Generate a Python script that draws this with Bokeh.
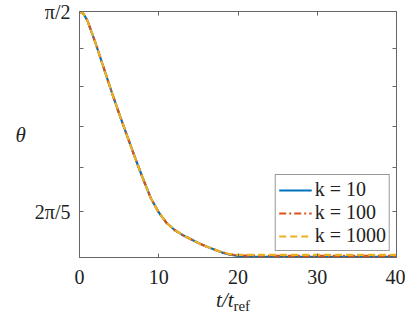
import math
from bokeh.plotting import figure
from bokeh.models import (Range1d, FixedTicker, CustomJSTickFormatter, LogAxis,
                          LinearAxis, Legend, LegendItem)
from bokeh.embed import file_html
from bokeh.resources import INLINE

# ---- data ----
t = [0, 0.5, 1, 2, 3, 4, 5, 6, 7, 8, 9, 10, 11, 12, 13, 14, 15, 16, 17, 18,
     19, 20, 22, 25, 30, 35, 40]
theta_k10 = [1.5708, 1.5669, 1.5551, 1.5174, 1.4773, 1.4383, 1.4018, 1.3678,
             1.3347, 1.3038, 1.2755, 1.2554, 1.2406, 1.2310, 1.2241, 1.2187,
             1.2132, 1.2085, 1.2044, 1.2004, 1.1977, 1.1960, 1.1951, 1.1946,
             1.1946, 1.1946, 1.1946]
theta_k100 = [1.5708, 1.5669, 1.5551, 1.5174, 1.4773, 1.4383, 1.4018, 1.3678,
              1.3347, 1.3038, 1.2755, 1.2554, 1.2406, 1.2310, 1.2241, 1.2187,
              1.2132, 1.2085, 1.2045, 1.2006, 1.1980, 1.1966, 1.1962, 1.1961,
              1.1961, 1.1961, 1.1961]
theta_k1000 = [1.5708, 1.5669, 1.5551, 1.5174, 1.4773, 1.4383, 1.4018, 1.3678,
               1.3347, 1.3038, 1.2755, 1.2554, 1.2406, 1.2310, 1.2241, 1.2187,
               1.2132, 1.2085, 1.2046, 1.2008, 1.1982, 1.1972, 1.1974, 1.1974,
               1.1974, 1.1974, 1.1974]
series_labels = ["k = 10", "k = 100", "k = 1000"]

x_ticks = [0, 10, 20, 30, 40]
y_ticks = [math.pi * n / 50 for n in (20, 21, 22, 23, 24, 25)]
y_tick_labels = ["2π/5", "", "", "", "", "π/2"]
y_min = math.pi * 19 / 50
y_max = math.pi / 2

FONT = "Liberation Serif"
AX = "#666666"
NB = "\u00a0"

p = figure(width=405, height=316,
           y_axis_type="log", x_range=Range1d(0, 40), y_range=Range1d(y_min, y_max),
           output_backend="svg", toolbar_location=None,
           min_border_left=79, min_border_right=9, min_border_top=11,
           min_border_bottom=59)
p.grid.visible = False
p.outline_line_color = AX
p.outline_line_width = 1
p.background_fill_color = "white"
p.border_fill_color = "white"

yfmt = CustomJSTickFormatter(args=dict(vals=y_ticks, labs=y_tick_labels), code="""
for (let i = 0; i < vals.length; i++) {
  if (Math.abs(tick - vals[i]) < 1e-6) return labs[i];
}
return "";
""")
blank = CustomJSTickFormatter(code='return "";')

def style_axis(ax):
    ax.axis_line_color = AX
    ax.major_tick_line_color = AX
    ax.minor_tick_line_color = None
    ax.major_tick_in = 4
    ax.major_tick_out = 0
    ax.major_label_text_font = FONT
    ax.major_label_text_font_size = "20px"
    ax.major_label_text_color = "#222222"
    ax.axis_label_text_font = FONT
    ax.axis_label_text_color = "#222222"

xa = p.xaxis[0]
xa.ticker = FixedTicker(ticks=x_ticks)
style_axis(xa)
xa.major_label_standoff = 12
xa.axis_label = "t/t" + NB * 5
xa.axis_label_text_font_style = "italic"
xa.axis_label_text_font_size = "21px"
xa.axis_label_standoff = 1

# subscript of the x label
xs = LinearAxis(ticker=FixedTicker(ticks=[]), formatter=blank)
style_axis(xs)
xs.axis_line_color = None
xs.major_label_standoff = 0
xs.major_label_text_font_size = "1px"
xs.axis_label = NB * 2 + "ref"
xs.axis_label_text_font_size = "15px"
xs.axis_label_text_font_style = "normal"
xs.axis_label_standoff = -17
p.add_layout(xs, "below")

ya = p.yaxis[0]
ya.ticker = FixedTicker(ticks=y_ticks)
ya.formatter = yfmt
style_axis(ya)
ya.major_label_standoff = 9
ya.axis_label = "θ"
ya.axis_label_orientation = "horizontal"
ya.axis_label_text_font_style = "italic"
ya.axis_label_text_font_size = "21px"
ya.axis_label_standoff = 6

ra = LogAxis(ticker=FixedTicker(ticks=y_ticks), formatter=blank)
style_axis(ra)
ra.major_label_standoff = 0
p.add_layout(ra, "right")

ta = LinearAxis(ticker=FixedTicker(ticks=x_ticks), formatter=blank)
style_axis(ta)
ta.major_label_standoff = 0
p.add_layout(ta, "above")

r1 = p.line(t, theta_k10, line_color="#0072BD", line_width=2.2)
r2 = p.line(t, theta_k100, line_color="#D95319", line_width=2.2, line_dash="7 3 2 3")
r3 = p.line(t, theta_k1000, line_color="#EDB120", line_width=2.2, line_dash="7 4")

legend = Legend(items=[LegendItem(label=series_labels[0], renderers=[r1]),
                       LegendItem(label=series_labels[1], renderers=[r2]),
                       LegendItem(label=series_labels[2], renderers=[r3])],
                location="bottom_right")
legend.label_text_font = FONT
legend.label_text_font_size = "20px"
legend.label_text_color = "#222222"
legend.glyph_width = 33
legend.glyph_height = 20
legend.label_height = 20
legend.label_standoff = 3
legend.spacing = 0
legend.padding = 3
legend.margin = 6
legend.border_line_color = "#333333"
legend.border_line_width = 1
legend.background_fill_alpha = 1
p.add_layout(legend, "center")

open("out.html", "w").write(file_html(p, INLINE))
